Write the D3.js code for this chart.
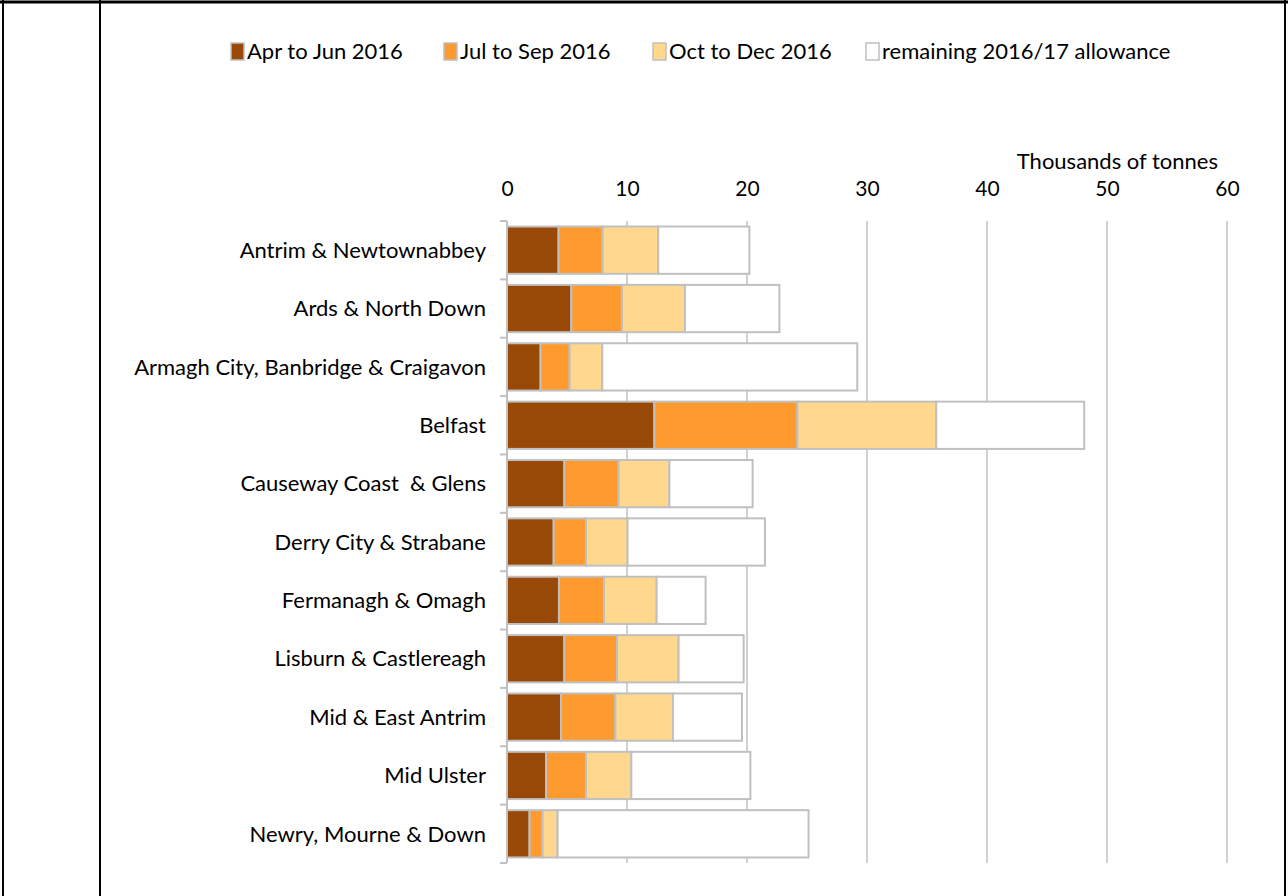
<!DOCTYPE html>
<html>
<head>
<meta charset="utf-8">
<script src="https://cdn.jsdelivr.net/npm/d3@7"></script>
<style>
  body { margin: 0; background: #fff; }
  svg text { font-family: Lato, "Liberation Sans", sans-serif; fill: #000; white-space: pre; }
</style>
</head>
<body>
<div id="chart"></div>
<script>
// councils, top to bottom
const councils = [
  "Antrim & Newtownabbey", "Ards & North Down", "Armagh City, Banbridge & Craigavon",
  "Belfast", "Causeway Coast  & Glens", "Derry City & Strabane", "Fermanagh & Omagh",
  "Lisburn & Castlereagh", "Mid & East Antrim", "Mid Ulster", "Newry, Mourne & Down"
];
const seriesNames = ["Apr to Jun 2016", "Jul to Sep 2016", "Oct to Dec 2016", "remaining 2016/17 allowance"];
// thousands of tonnes
const aprJun    = [4.30, 5.36, 2.80, 12.28, 4.78, 3.89, 4.33, 4.78, 4.50, 3.25, 1.88];
const julSep    = [3.67, 4.22, 2.42, 11.92, 4.52, 2.69, 3.75, 4.39, 4.53, 3.33, 1.09];
const octDec    = [4.63, 5.25, 2.72, 11.57, 4.23, 3.47, 4.39, 5.13, 4.80, 3.78, 1.25];
const remaining = [7.60, 7.87, 21.25, 12.33, 6.94, 11.45, 4.08, 5.42, 5.75, 9.92, 20.91];
const xTicks = [0, 10, 20, 30, 40, 50, 60];

const W = 1288, H = 896;
const colors = ["#984807", "#fe9a2e", "#ffd78d", "#ffffff"];
const edge = "#c0c0c0";

const svg = d3.select("#chart").append("svg")
  .attr("width", W).attr("height", H);

// frame lines
svg.append("line").attr("x1", 0).attr("x2", W).attr("y1", 2).attr("y2", 2)
  .attr("stroke", "#000").attr("stroke-width", 3);
[3, 100, 1285].forEach(function (xx) {
  svg.append("line").attr("x1", xx).attr("x2", xx).attr("y1", 0).attr("y2", H)
    .attr("stroke", "#000").attr("stroke-width", 2);
});

// build rows for the stack
const rows = councils.map(function (c, i) {
  return { name: c, s0: aprJun[i], s1: julSep[i], s2: octDec[i], s3: remaining[i] };
});
const stack = d3.stack().keys(["s0", "s1", "s2", "s3"])(rows);

const x = d3.scaleLinear().domain([0, 60]).range([507, 1227]);
const y = d3.scaleBand().domain(councils).range([221, 863])
  .paddingInner(0.19).paddingOuter(0.095);

// vertical gridlines
svg.append("g").selectAll("line").data(xTicks.slice(1)).enter().append("line")
  .attr("x1", function (d) { return x(d); }).attr("x2", function (d) { return x(d); })
  .attr("y1", 221).attr("y2", 863)
  .attr("stroke", "#d0d0d0").attr("stroke-width", 2);

// top axis labels
const xAxis = svg.append("g").attr("transform", "translate(0,196)")
  .call(d3.axisTop(x).tickValues(xTicks).tickSize(0).tickPadding(0));
xAxis.select(".domain").remove();
xAxis.selectAll("text").style("font-size", "21px");

svg.append("text").attr("x", 1218).attr("y", 169)
  .attr("text-anchor", "end").style("font-size", "22px")
  .text("Thousands of tonnes");

// bars
svg.append("g").selectAll("g").data(stack).enter().append("g")
  .attr("fill", function (d, i) { return colors[i]; })
  .selectAll("rect").data(function (d) { return d; }).enter().append("rect")
  .attr("x", function (d) { return x(d[0]); })
  .attr("y", function (d) { return y(d.data.name); })
  .attr("width", function (d) { return x(d[1]) - x(d[0]); })
  .attr("height", y.bandwidth())
  .attr("stroke", edge).attr("stroke-width", 2);

// left axis with ticks between categories
svg.append("line").attr("x1", x(0)).attr("x2", x(0)).attr("y1", 221).attr("y2", 863)
  .attr("stroke", edge).attr("stroke-width", 2);
const bounds = d3.range(councils.length + 1).map(function (i) { return 221 + i * y.step(); });
svg.append("g").selectAll("line").data(bounds).enter().append("line")
  .attr("x1", x(0) - 7).attr("x2", x(0))
  .attr("y1", function (d) { return d; }).attr("y2", function (d) { return d; })
  .attr("stroke", edge).attr("stroke-width", 2);

// category labels
svg.append("g").selectAll("text").data(councils).enter().append("text")
  .attr("x", 486)
  .attr("y", function (d) { return y(d) + y.bandwidth() / 2; })
  .attr("dy", "0.35em")
  .attr("text-anchor", "end")
  .style("font-size", "22px")
  .text(function (d) { return d; });

// legend
const legendX = [231, 444, 653, 866];
const legend = svg.append("g").selectAll("g").data(seriesNames).enter().append("g")
  .attr("transform", function (d, i) { return "translate(" + legendX[i] + ",43)"; });
legend.append("rect")
  .attr("width", 13).attr("height", 17)
  .attr("fill", function (d, i) { return colors[i]; })
  .attr("stroke", edge).attr("stroke-width", 1.5);
legend.append("text")
  .attr("x", 16).attr("y", 8.5).attr("dy", "0.35em")
  .style("font-size", "22px")
  .text(function (d) { return d; });
</script>
</body>
</html>
